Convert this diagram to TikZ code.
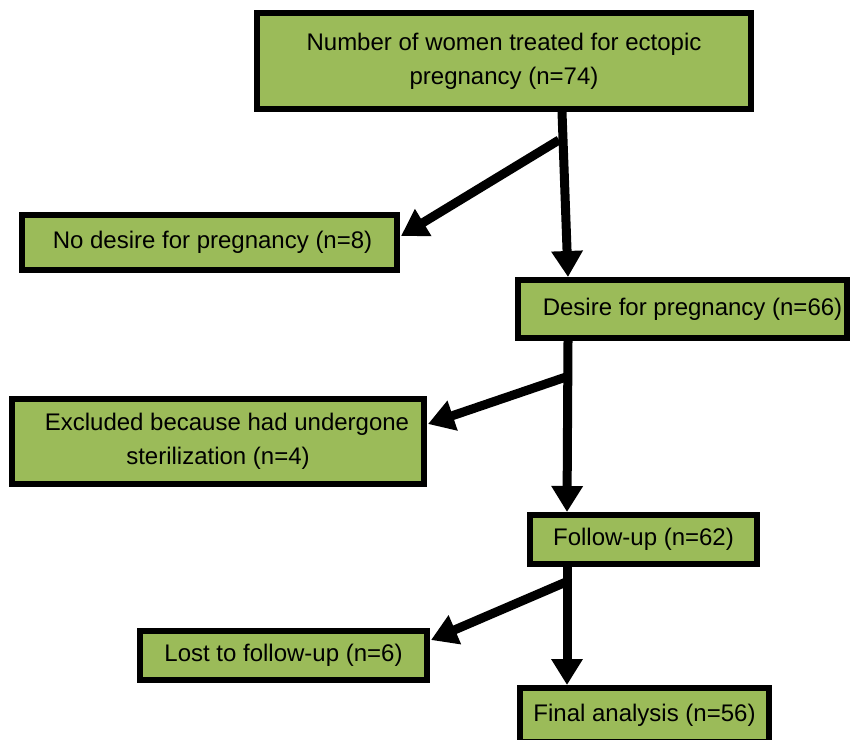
\documentclass[tikz,border=0pt]{standalone}
\usepackage{fontspec}
\setmainfont{Liberation Sans}
\usetikzlibrary{arrows.meta,shadows}
\definecolor{boxgreen}{HTML}{9BBB59}
\begin{document}
\begin{tikzpicture}[x=1pt,y=-1pt,
  box/.style={draw=black, line width=6pt, fill=boxgreen, align=center, inner sep=0pt,
     font=\fontsize{24}{34}\selectfont,
     drop shadow={shadow xshift=3pt, shadow yshift=-3pt, fill=black!40, opacity=0.7}},
  arr/.style={line width=9pt, -{Triangle[width=30pt,length=26pt]}}]
\useasboundingbox (0,0) rectangle (850,739);
\node[box, minimum width=494pt, minimum height=96pt] (top) at (504,61) {Number of women treated for ectopic\\pregnancy (n=74)};
\node[box, minimum width=375pt, minimum height=55pt] (nd) at (209.5,242.5) {\hspace*{6pt}No desire for pregnancy (n=8)};
\node[box, minimum width=329pt, minimum height=58pt] (des) at (682.5,309) {\hspace*{20pt}Desire for pregnancy (n=66)};
\node[box, minimum width=412pt, minimum height=85pt] (exc) at (218,441.5) {\hspace*{18pt}Excluded because had undergone\\sterilization (n=4)};
\node[box, minimum width=227pt, minimum height=49pt] (fu) at (643.5,539.5) {Follow-up (n=62)};
\node[box, minimum width=287pt, minimum height=49pt] (lost) at (283.5,655.5) {Lost to follow-up (n=6)};
\node[box, minimum width=249pt, minimum height=54pt] (fin) at (644.5,715) {Final analysis (n=56)};
% connectors
\coordinate (a1) at (562,112);
\coordinate (a1t) at (568,277);
\coordinate (j1) at (559,140);
\coordinate (j1t) at (401,236);
\draw[arr] (a1) -- (a1t);
\draw[arr] (j1) -- (j1t);
\coordinate (a2) at (568,341);
\coordinate (a2t) at (567,512);
\coordinate (j2) at (566,377);
\coordinate (j2t) at (428,424);
\draw[arr] (a2) -- (a2t);
\draw[arr] (j2) -- (j2t);
\coordinate (a3) at (567,567);
\coordinate (a3t) at (567,685);
\coordinate (j3) at (566,582);
\coordinate (j3t) at (431,640);
\draw[arr] (a3) -- (a3t);
\draw[arr] (j3) -- (j3t);
\end{tikzpicture}
\end{document}
